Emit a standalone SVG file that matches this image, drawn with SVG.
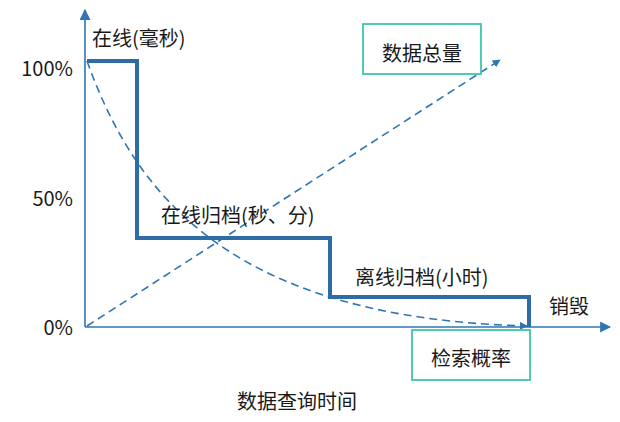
<svg xmlns="http://www.w3.org/2000/svg" width="620" height="422" viewBox="0 0 620 422">
<defs>
<style>
.t{font-family:"Noto Sans CJK SC","Liberation Sans",sans-serif;font-size:20px;fill:#1a1a1a}
.axis{stroke:#2e75b6;stroke-width:1.6;fill:none}
.dash{stroke:#2e75b6;stroke-width:1.6;fill:none;stroke-dasharray:8 5}
.step{stroke:#2e6da4;stroke-width:4;fill:none;stroke-linejoin:miter}
.box{fill:#ffffff;stroke:#3cc6ad;stroke-width:1.8}
</style>
<marker id="ah" viewBox="0 0 10 10" refX="9" refY="5" markerWidth="8" markerHeight="8" markerUnits="userSpaceOnUse" orient="auto">
<path d="M0,0 L10,5 L0,10 z" fill="#2e75b6"/>
</marker>
<marker id="ah2" viewBox="0 0 10 10" refX="9" refY="5" markerWidth="11" markerHeight="11" markerUnits="userSpaceOnUse" orient="auto">
<path d="M0,0 L10,5 L0,10 z" fill="#2e75b6"/>
</marker>
</defs>
<rect width="620" height="422" fill="#ffffff"/>
<g id="connectors">
<line class="axis" x1="85" y1="327" x2="85" y2="10" marker-end="url(#ah2)"/>
<line class="axis" x1="85" y1="327" x2="610" y2="327" marker-end="url(#ah2)"/>
<path class="dash" d="M87,61 C135,195 230,318 527,326" marker-end="url(#ah)"/>
<line class="dash" x1="87" y1="326" x2="500" y2="60" marker-end="url(#ah)"/>
<path class="step" d="M87,61 H137 V238 H330 V297 H529 V327"/>
</g>
<g id="total">
<rect class="box" x="363" y="24" width="118" height="50"/>
<text class="t" x="422" y="61" text-anchor="middle">数据总量</text>
</g>
<g id="prob">
<rect class="box" x="412" y="330" width="118" height="50"/>
<text class="t" x="471" y="366" text-anchor="middle">检索概率</text>
</g>
<g id="labels">
<text class="t" x="73" y="76" text-anchor="end">100%</text>
<text class="t" x="73" y="206" text-anchor="end">50%</text>
<text class="t" x="73" y="335" text-anchor="end">0%</text>
<text class="t" x="92" y="46">在线(毫秒)</text>
<text class="t" x="161" y="223">在线归档(秒、分)</text>
<text class="t" x="355" y="285">离线归档(小时)</text>
<text class="t" x="549" y="314">销毁</text>
<text class="t" x="297" y="409" text-anchor="middle">数据查询时间</text>
</g>
</svg>
